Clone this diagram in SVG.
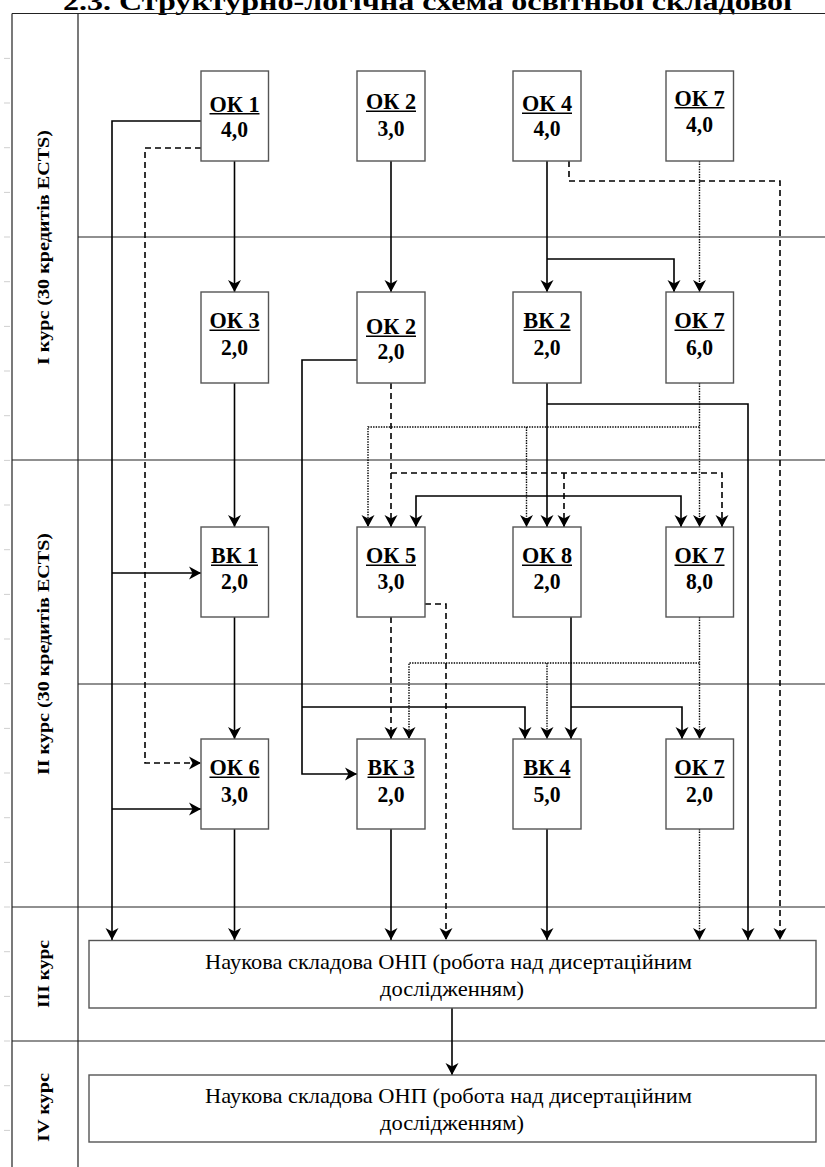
<svg xmlns="http://www.w3.org/2000/svg" width="825" height="1167" viewBox="0 0 825 1167">
<style>
.bg{fill:#fff}
.grid{stroke:#222;stroke-width:1.2;fill:none}
.tick{stroke:#cfcfcf;stroke-width:1}
.box{fill:#fff;stroke:#555;stroke-width:1.4}
.lbl{font-family:"Liberation Serif","Times New Roman",serif;font-weight:bold;font-size:24px;fill:#000;text-anchor:middle}
.ul{stroke:#000;stroke-width:1.5}
.lane{font-family:"Liberation Serif","Times New Roman",serif;font-weight:bold;font-size:17px;fill:#000;text-anchor:middle}
.big{font-family:"Liberation Serif","Times New Roman",serif;font-size:22px;fill:#000;text-anchor:middle}
.title{font-family:"Liberation Serif","Times New Roman",serif;font-weight:bold;font-size:26px;fill:#000}
.s{fill:none;stroke:#000;stroke-width:1.6;marker-end:url(#ah)}
.s0{fill:none;stroke:#000;stroke-width:1.6}
.d{fill:none;stroke:#000;stroke-width:1.6;stroke-dasharray:6 4;marker-end:url(#ah)}
.t{fill:none;stroke:#000;stroke-width:1.4;stroke-dasharray:1.4 1.2;marker-end:url(#ah)}
</style>
<defs>
<marker id="ah" markerUnits="userSpaceOnUse" viewBox="-13 -7 14 14" markerWidth="14" markerHeight="14" refX="0" refY="0" orient="auto">
<path d="M0,0 L-12,-6.5 L-8.5,0 L-12,6.5 Z" fill="#000"/>
</marker>
</defs>
<rect class="bg" x="0" y="0" width="825" height="1167"/>

<text class="title" x="63" y="10" textLength="729" lengthAdjust="spacingAndGlyphs">2.3. Структурно-логічна схема освітньої складової</text>

<g id="ticks">
<line class="tick" x1="4" y1="58.4" x2="10" y2="58.4"/>
<line class="tick" x1="4" y1="103" x2="10" y2="103"/>
<line class="tick" x1="4" y1="147.7" x2="10" y2="147.7"/>
<line class="tick" x1="4" y1="192.4" x2="10" y2="192.4"/>
<line class="tick" x1="4" y1="237" x2="10" y2="237"/>
<line class="tick" x1="4" y1="281.7" x2="10" y2="281.7"/>
<line class="tick" x1="4" y1="326.4" x2="10" y2="326.4"/>
<line class="tick" x1="4" y1="371" x2="10" y2="371"/>
<line class="tick" x1="4" y1="415.7" x2="10" y2="415.7"/>
<line class="tick" x1="4" y1="460.4" x2="10" y2="460.4"/>
<line class="tick" x1="4" y1="505" x2="10" y2="505"/>
<line class="tick" x1="4" y1="549.7" x2="10" y2="549.7"/>
<line class="tick" x1="4" y1="594.4" x2="10" y2="594.4"/>
<line class="tick" x1="4" y1="639" x2="10" y2="639"/>
<line class="tick" x1="4" y1="683.7" x2="10" y2="683.7"/>
<line class="tick" x1="4" y1="728.4" x2="10" y2="728.4"/>
<line class="tick" x1="4" y1="773" x2="10" y2="773"/>
<line class="tick" x1="4" y1="817.7" x2="10" y2="817.7"/>
<line class="tick" x1="4" y1="862.4" x2="10" y2="862.4"/>
<line class="tick" x1="4" y1="907" x2="10" y2="907"/>
<line class="tick" x1="4" y1="951.7" x2="10" y2="951.7"/>
<line class="tick" x1="4" y1="996.4" x2="10" y2="996.4"/>
<line class="tick" x1="4" y1="1041" x2="10" y2="1041"/>
<line class="tick" x1="4" y1="1085.7" x2="10" y2="1085.7"/>
<line class="tick" x1="4" y1="1130.4" x2="10" y2="1130.4"/>
</g>

<g id="lanes">
<path class="grid" d="M12,13.5 V1167 M78,13.5 V1167 M12,13.5 H825 M78,237 H825 M12,460 H825 M78,684 H825 M12,907 H825 M12,1041 H825"/>
<text class="lane" transform="translate(49,247.5) rotate(-90)" textLength="235" lengthAdjust="spacingAndGlyphs">I курс (30 кредитів ECTS)</text>
<text class="lane" transform="translate(49,654) rotate(-90)" textLength="242" lengthAdjust="spacingAndGlyphs">II курс (30 кредитів ECTS)</text>
<text class="lane" transform="translate(49,974) rotate(-90)" textLength="68" lengthAdjust="spacingAndGlyphs">III курс</text>
<text class="lane" transform="translate(49,1107.5) rotate(-90)" textLength="69" lengthAdjust="spacingAndGlyphs">IV курс</text>
</g>

<g id="connectors">
<path class="s" d="M201,121 H112 V940"/>
<path class="s" d="M112,573 H201"/>
<path class="s" d="M112,809 H201"/>
<path class="s" d="M234.5,161 V292"/>
<path class="s" d="M391,161 V292"/>
<path class="s" d="M547,161 V292"/>
<path class="s" d="M547,259 H674 V292"/>
<path class="s" d="M234.5,383 V527"/>
<path class="s" d="M357,360 H302 V774 H357"/>
<path class="s" d="M302,707 H525 V739"/>
<path class="s" d="M547,383 V527"/>
<path class="s" d="M547,404 H748 V940"/>
<path class="s" d="M547,496 H416 V527"/>
<path class="s" d="M547,496 H681 V527"/>
<path class="s" d="M234.5,617 V739"/>
<path class="s" d="M571,617 V739"/>
<path class="s" d="M571,707 H682 V739"/>
<path class="s" d="M234.5,829 V940"/>
<path class="s" d="M391,829 V940"/>
<path class="s" d="M547,829 V940"/>
<path class="s" d="M452,1008 V1075"/>

<path class="d" d="M201,148 H145 V763 H201"/>
<path class="d" d="M569,161 V181 H780 V940"/>
<path class="d" d="M391,383 V527"/>
<path class="d" d="M391,473 H722 V527"/>
<path class="d" d="M564,473 V527"/>
<path class="d" d="M391,617 V739"/>
<path class="d" d="M425,604 H446 V940"/>

<path class="t" d="M699.5,161 V292"/>
<path class="t" d="M699.5,383 V527"/>
<path class="t" d="M699.5,427 H368 V527"/>
<path class="t" d="M526.5,427 V527"/>
<path class="t" d="M699.5,617 V739"/>
<path class="t" d="M699.5,663 H409 V739"/>
<path class="t" d="M547,663 V739"/>
<path class="t" d="M699.5,829 V940"/>
</g>

<g id="ok1"><rect class="box" x="201" y="71" width="67.5" height="90"/><text class="lbl" x="234.5" y="111.5" textLength="50" lengthAdjust="spacingAndGlyphs">ОК 1</text><line class="ul" x1="209.5" y1="113.7" x2="259.5" y2="113.7"/><text class="lbl" x="234.5" y="136.5" textLength="27" lengthAdjust="spacingAndGlyphs">4,0</text></g>
<g id="ok2a"><rect class="box" x="357" y="71" width="68" height="90"/><text class="lbl" x="391" y="109" textLength="50" lengthAdjust="spacingAndGlyphs">ОК 2</text><line class="ul" x1="366" y1="111.2" x2="416" y2="111.2"/><text class="lbl" x="391" y="136" textLength="27" lengthAdjust="spacingAndGlyphs">3,0</text></g>
<g id="ok4"><rect class="box" x="513" y="71" width="68" height="90"/><text class="lbl" x="547" y="111" textLength="50" lengthAdjust="spacingAndGlyphs">ОК 4</text><line class="ul" x1="522" y1="113.2" x2="572" y2="113.2"/><text class="lbl" x="547" y="136" textLength="27" lengthAdjust="spacingAndGlyphs">4,0</text></g>
<g id="ok7a"><rect class="box" x="666" y="71" width="67.5" height="90"/><text class="lbl" x="699.5" y="105.5" textLength="50" lengthAdjust="spacingAndGlyphs">ОК 7</text><line class="ul" x1="674.5" y1="107.7" x2="724.5" y2="107.7"/><text class="lbl" x="699.5" y="132" textLength="27" lengthAdjust="spacingAndGlyphs">4,0</text></g>

<g id="ok3"><rect class="box" x="201" y="292" width="67.5" height="91"/><text class="lbl" x="234.5" y="328" textLength="50" lengthAdjust="spacingAndGlyphs">ОК 3</text><line class="ul" x1="209.5" y1="330.2" x2="259.5" y2="330.2"/><text class="lbl" x="234.5" y="355" textLength="27" lengthAdjust="spacingAndGlyphs">2,0</text></g>
<g id="ok2b"><rect class="box" x="357" y="292" width="68" height="91"/><text class="lbl" x="391" y="334" textLength="50" lengthAdjust="spacingAndGlyphs">ОК 2</text><line class="ul" x1="366" y1="336.2" x2="416" y2="336.2"/><text class="lbl" x="391" y="359" textLength="27" lengthAdjust="spacingAndGlyphs">2,0</text></g>
<g id="vk2"><rect class="box" x="513" y="292" width="68" height="91"/><text class="lbl" x="547" y="328" textLength="47" lengthAdjust="spacingAndGlyphs">ВК 2</text><line class="ul" x1="523.5" y1="330.2" x2="570.5" y2="330.2"/><text class="lbl" x="547" y="355" textLength="27" lengthAdjust="spacingAndGlyphs">2,0</text></g>
<g id="ok7b"><rect class="box" x="666" y="292" width="67.5" height="91"/><text class="lbl" x="699.5" y="328" textLength="50" lengthAdjust="spacingAndGlyphs">ОК 7</text><line class="ul" x1="674.5" y1="330.2" x2="724.5" y2="330.2"/><text class="lbl" x="699.5" y="355" textLength="27" lengthAdjust="spacingAndGlyphs">6,0</text></g>

<g id="vk1"><rect class="box" x="201" y="527" width="67.5" height="90"/><text class="lbl" x="234.5" y="563" textLength="47" lengthAdjust="spacingAndGlyphs">ВК 1</text><line class="ul" x1="211" y1="565.2" x2="258" y2="565.2"/><text class="lbl" x="234.5" y="589" textLength="27" lengthAdjust="spacingAndGlyphs">2,0</text></g>
<g id="ok5"><rect class="box" x="357" y="527" width="68" height="90"/><text class="lbl" x="391" y="563" textLength="50" lengthAdjust="spacingAndGlyphs">ОК 5</text><line class="ul" x1="366" y1="565.2" x2="416" y2="565.2"/><text class="lbl" x="391" y="589" textLength="27" lengthAdjust="spacingAndGlyphs">3,0</text></g>
<g id="ok8"><rect class="box" x="513" y="527" width="68" height="90"/><text class="lbl" x="547" y="563" textLength="50" lengthAdjust="spacingAndGlyphs">ОК 8</text><line class="ul" x1="522" y1="565.2" x2="572" y2="565.2"/><text class="lbl" x="547" y="589" textLength="27" lengthAdjust="spacingAndGlyphs">2,0</text></g>
<g id="ok7c"><rect class="box" x="666" y="527" width="67.5" height="90"/><text class="lbl" x="699.5" y="563" textLength="50" lengthAdjust="spacingAndGlyphs">ОК 7</text><line class="ul" x1="674.5" y1="565.2" x2="724.5" y2="565.2"/><text class="lbl" x="699.5" y="589" textLength="27" lengthAdjust="spacingAndGlyphs">8,0</text></g>

<g id="ok6"><rect class="box" x="201" y="739" width="67.5" height="90"/><text class="lbl" x="234.5" y="775" textLength="50" lengthAdjust="spacingAndGlyphs">ОК 6</text><line class="ul" x1="209.5" y1="777.2" x2="259.5" y2="777.2"/><text class="lbl" x="234.5" y="801.5" textLength="27" lengthAdjust="spacingAndGlyphs">3,0</text></g>
<g id="vk3"><rect class="box" x="357" y="739" width="68" height="90"/><text class="lbl" x="391" y="775" textLength="47" lengthAdjust="spacingAndGlyphs">ВК 3</text><line class="ul" x1="367.5" y1="777.2" x2="414.5" y2="777.2"/><text class="lbl" x="391" y="801.5" textLength="27" lengthAdjust="spacingAndGlyphs">2,0</text></g>
<g id="vk4"><rect class="box" x="513" y="739" width="68" height="90"/><text class="lbl" x="547" y="775" textLength="47" lengthAdjust="spacingAndGlyphs">ВК 4</text><line class="ul" x1="523.5" y1="777.2" x2="570.5" y2="777.2"/><text class="lbl" x="547" y="801.5" textLength="27" lengthAdjust="spacingAndGlyphs">5,0</text></g>
<g id="ok7d"><rect class="box" x="666" y="739" width="67.5" height="90"/><text class="lbl" x="699.5" y="775" textLength="50" lengthAdjust="spacingAndGlyphs">ОК 7</text><line class="ul" x1="674.5" y1="777.2" x2="724.5" y2="777.2"/><text class="lbl" x="699.5" y="801.5" textLength="27" lengthAdjust="spacingAndGlyphs">2,0</text></g>

<g id="science3"><rect class="box" x="89" y="940.5" width="727" height="67.5"/><text class="big" x="448.5" y="969" textLength="487" lengthAdjust="spacingAndGlyphs">Наукова складова ОНП (робота над дисертаційним</text><text class="big" x="452" y="995.5" textLength="144" lengthAdjust="spacingAndGlyphs">дослідженням)</text></g>
<g id="science4"><rect class="box" x="89" y="1075" width="727" height="67"/><text class="big" x="448.5" y="1103" textLength="487" lengthAdjust="spacingAndGlyphs">Наукова складова ОНП (робота над дисертаційним</text><text class="big" x="452" y="1129.5" textLength="144" lengthAdjust="spacingAndGlyphs">дослідженням)</text></g>
</svg>
